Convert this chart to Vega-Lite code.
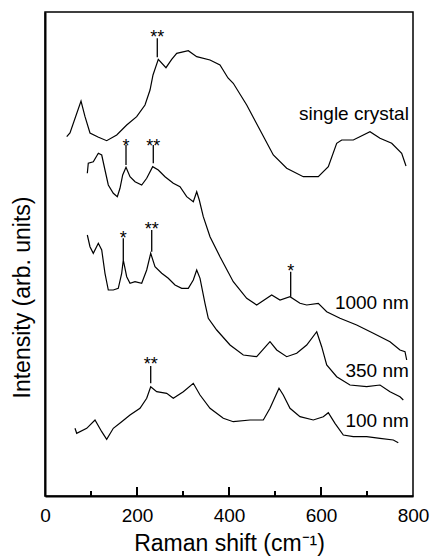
{
  "$schema": "https://vega.github.io/schema/vega-lite/v6.json",
  "width": 368,
  "height": 484,
  "autosize": {"type": "none"},
  "padding": {"left": 45, "top": 12, "right": 19, "bottom": 62},
  "background": "white",
  "config": {
    "font": "Liberation Sans",
    "view": {"stroke": "black", "strokeWidth": 1.5},
    "axis": {"grid": false, "domainColor": "black", "tickColor": "black", "labelColor": "black", "titleColor": "black", "titleFontWeight": "normal"}
  },
  "datasets": {
    "spectra": [
      {"sample": "single crystal", "shift": 47.2, "intensity": 359.3},
      {"sample": "single crystal", "shift": 54.3, "intensity": 363},
      {"sample": "single crystal", "shift": 78.3, "intensity": 395},
      {"sample": "single crystal", "shift": 87.0, "intensity": 379.3},
      {"sample": "single crystal", "shift": 97.8, "intensity": 363},
      {"sample": "single crystal", "shift": 115.2, "intensity": 359},
      {"sample": "single crystal", "shift": 134.1, "intensity": 355.3},
      {"sample": "single crystal", "shift": 155.9, "intensity": 361},
      {"sample": "single crystal", "shift": 177.6, "intensity": 371},
      {"sample": "single crystal", "shift": 199.3, "intensity": 379.3},
      {"sample": "single crystal", "shift": 217.4, "intensity": 391},
      {"sample": "single crystal", "shift": 228.3, "intensity": 406},
      {"sample": "single crystal", "shift": 234.8, "intensity": 421},
      {"sample": "single crystal", "shift": 246.3, "intensity": 436.7},
      {"sample": "single crystal", "shift": 263.0, "intensity": 428.3},
      {"sample": "single crystal", "shift": 275.4, "intensity": 436.7},
      {"sample": "single crystal", "shift": 286.3, "intensity": 442.7},
      {"sample": "single crystal", "shift": 311.5, "intensity": 445.3},
      {"sample": "single crystal", "shift": 329.8, "intensity": 439.3},
      {"sample": "single crystal", "shift": 358.7, "intensity": 436},
      {"sample": "single crystal", "shift": 380.4, "intensity": 431},
      {"sample": "single crystal", "shift": 397.8, "intensity": 418},
      {"sample": "single crystal", "shift": 409.3, "intensity": 412.7},
      {"sample": "single crystal", "shift": 438.5, "intensity": 391},
      {"sample": "single crystal", "shift": 467.4, "intensity": 366},
      {"sample": "single crystal", "shift": 496.3, "intensity": 341},
      {"sample": "single crystal", "shift": 525.4, "intensity": 327.7},
      {"sample": "single crystal", "shift": 561.5, "intensity": 319.3},
      {"sample": "single crystal", "shift": 594.1, "intensity": 319.3},
      {"sample": "single crystal", "shift": 615.9, "intensity": 329.3},
      {"sample": "single crystal", "shift": 634.1, "intensity": 352.7},
      {"sample": "single crystal", "shift": 645.0, "intensity": 356},
      {"sample": "single crystal", "shift": 670.2, "intensity": 356},
      {"sample": "single crystal", "shift": 706.5, "intensity": 364.3},
      {"sample": "single crystal", "shift": 728.3, "intensity": 357.7},
      {"sample": "single crystal", "shift": 753.7, "intensity": 352.7},
      {"sample": "single crystal", "shift": 775.4, "intensity": 342.7},
      {"sample": "single crystal", "shift": 784.8, "intensity": 330},

      {"sample": "1000 nm", "shift": 92.0, "intensity": 322.7},
      {"sample": "1000 nm", "shift": 94.1, "intensity": 332.7},
      {"sample": "1000 nm", "shift": 105.0, "intensity": 334.3},
      {"sample": "1000 nm", "shift": 115.9, "intensity": 342.7},
      {"sample": "1000 nm", "shift": 123.3, "intensity": 341},
      {"sample": "1000 nm", "shift": 130.4, "intensity": 326},
      {"sample": "1000 nm", "shift": 137.6, "intensity": 311},
      {"sample": "1000 nm", "shift": 148.5, "intensity": 302.7},
      {"sample": "1000 nm", "shift": 157.2, "intensity": 299.3},
      {"sample": "1000 nm", "shift": 163.0, "intensity": 307.7},
      {"sample": "1000 nm", "shift": 168.9, "intensity": 321},
      {"sample": "1000 nm", "shift": 176.1, "intensity": 328.7},
      {"sample": "1000 nm", "shift": 184.8, "intensity": 319.3},
      {"sample": "1000 nm", "shift": 195.7, "intensity": 314.3},
      {"sample": "1000 nm", "shift": 210.2, "intensity": 311},
      {"sample": "1000 nm", "shift": 221.1, "intensity": 317.7},
      {"sample": "1000 nm", "shift": 234.1, "intensity": 329.3},
      {"sample": "1000 nm", "shift": 246.3, "intensity": 326},
      {"sample": "1000 nm", "shift": 260.9, "intensity": 319.3},
      {"sample": "1000 nm", "shift": 278.9, "intensity": 312.7},
      {"sample": "1000 nm", "shift": 293.5, "intensity": 309.3},
      {"sample": "1000 nm", "shift": 308.0, "intensity": 299.3},
      {"sample": "1000 nm", "shift": 322.4, "intensity": 294.3},
      {"sample": "1000 nm", "shift": 329.8, "intensity": 304.3},
      {"sample": "1000 nm", "shift": 335.4, "intensity": 296},
      {"sample": "1000 nm", "shift": 344.1, "intensity": 279.3},
      {"sample": "1000 nm", "shift": 358.7, "intensity": 259.3},
      {"sample": "1000 nm", "shift": 380.4, "intensity": 239.3},
      {"sample": "1000 nm", "shift": 409.3, "intensity": 214.3},
      {"sample": "1000 nm", "shift": 438.5, "intensity": 197.7},
      {"sample": "1000 nm", "shift": 460.2, "intensity": 191},
      {"sample": "1000 nm", "shift": 492.8, "intensity": 201},
      {"sample": "1000 nm", "shift": 510.9, "intensity": 196},
      {"sample": "1000 nm", "shift": 532.6, "intensity": 199.3},
      {"sample": "1000 nm", "shift": 554.3, "intensity": 192.7},
      {"sample": "1000 nm", "shift": 568.9, "intensity": 191},
      {"sample": "1000 nm", "shift": 594.1, "intensity": 192.7},
      {"sample": "1000 nm", "shift": 612.4, "intensity": 184.3},
      {"sample": "1000 nm", "shift": 641.3, "intensity": 177.7},
      {"sample": "1000 nm", "shift": 677.6, "intensity": 171},
      {"sample": "1000 nm", "shift": 713.7, "intensity": 162.7},
      {"sample": "1000 nm", "shift": 750.0, "intensity": 154.3},
      {"sample": "1000 nm", "shift": 771.7, "intensity": 146},
      {"sample": "1000 nm", "shift": 782.6, "intensity": 144.3},
      {"sample": "1000 nm", "shift": 786.3, "intensity": 136},

      {"sample": "350 nm", "shift": 92.0, "intensity": 261},
      {"sample": "350 nm", "shift": 97.8, "intensity": 249.3},
      {"sample": "350 nm", "shift": 105.0, "intensity": 242.7},
      {"sample": "350 nm", "shift": 115.9, "intensity": 252.7},
      {"sample": "350 nm", "shift": 123.3, "intensity": 246},
      {"sample": "350 nm", "shift": 130.4, "intensity": 222.7},
      {"sample": "350 nm", "shift": 137.6, "intensity": 206},
      {"sample": "350 nm", "shift": 148.5, "intensity": 206},
      {"sample": "350 nm", "shift": 159.3, "intensity": 207.7},
      {"sample": "350 nm", "shift": 166.7, "intensity": 222.7},
      {"sample": "350 nm", "shift": 170.2, "intensity": 236},
      {"sample": "350 nm", "shift": 177.6, "intensity": 219.3},
      {"sample": "350 nm", "shift": 184.8, "intensity": 212.7},
      {"sample": "350 nm", "shift": 195.7, "intensity": 214.3},
      {"sample": "350 nm", "shift": 210.2, "intensity": 212.7},
      {"sample": "350 nm", "shift": 221.1, "intensity": 226},
      {"sample": "350 nm", "shift": 229.8, "intensity": 242.7},
      {"sample": "350 nm", "shift": 239.1, "intensity": 229.3},
      {"sample": "350 nm", "shift": 253.7, "intensity": 222.7},
      {"sample": "350 nm", "shift": 268.0, "intensity": 217.7},
      {"sample": "350 nm", "shift": 282.6, "intensity": 211},
      {"sample": "350 nm", "shift": 297.2, "intensity": 207.7},
      {"sample": "350 nm", "shift": 311.5, "intensity": 207.7},
      {"sample": "350 nm", "shift": 322.4, "intensity": 216},
      {"sample": "350 nm", "shift": 329.8, "intensity": 226},
      {"sample": "350 nm", "shift": 337.0, "intensity": 217.7},
      {"sample": "350 nm", "shift": 347.8, "intensity": 192.7},
      {"sample": "350 nm", "shift": 355.0, "intensity": 177.7},
      {"sample": "350 nm", "shift": 373.3, "intensity": 166},
      {"sample": "350 nm", "shift": 402.2, "intensity": 151},
      {"sample": "350 nm", "shift": 431.1, "intensity": 141},
      {"sample": "350 nm", "shift": 460.2, "intensity": 139.3},
      {"sample": "350 nm", "shift": 489.1, "intensity": 154.3},
      {"sample": "350 nm", "shift": 503.7, "intensity": 146},
      {"sample": "350 nm", "shift": 525.4, "intensity": 139.3},
      {"sample": "350 nm", "shift": 547.2, "intensity": 142.7},
      {"sample": "350 nm", "shift": 568.9, "intensity": 151},
      {"sample": "350 nm", "shift": 590.7, "intensity": 164.3},
      {"sample": "350 nm", "shift": 601.5, "intensity": 149.3},
      {"sample": "350 nm", "shift": 612.4, "intensity": 131},
      {"sample": "350 nm", "shift": 634.1, "intensity": 119.3},
      {"sample": "350 nm", "shift": 663.0, "intensity": 111},
      {"sample": "350 nm", "shift": 699.3, "intensity": 109.3},
      {"sample": "350 nm", "shift": 728.3, "intensity": 111},
      {"sample": "350 nm", "shift": 750.0, "intensity": 104.3},
      {"sample": "350 nm", "shift": 771.7, "intensity": 99.3},
      {"sample": "350 nm", "shift": 778.9, "intensity": 96},

      {"sample": "100 nm", "shift": 65.2, "intensity": 67.7},
      {"sample": "100 nm", "shift": 68.9, "intensity": 62.7},
      {"sample": "100 nm", "shift": 90.7, "intensity": 67.7},
      {"sample": "100 nm", "shift": 108.7, "intensity": 76},
      {"sample": "100 nm", "shift": 123.3, "intensity": 64.3},
      {"sample": "100 nm", "shift": 134.1, "intensity": 56.7},
      {"sample": "100 nm", "shift": 148.5, "intensity": 67.7},
      {"sample": "100 nm", "shift": 166.7, "intensity": 74.3},
      {"sample": "100 nm", "shift": 184.8, "intensity": 81},
      {"sample": "100 nm", "shift": 206.5, "intensity": 87.7},
      {"sample": "100 nm", "shift": 221.1, "intensity": 97.7},
      {"sample": "100 nm", "shift": 229.8, "intensity": 109.3},
      {"sample": "100 nm", "shift": 242.8, "intensity": 104.3},
      {"sample": "100 nm", "shift": 264.6, "intensity": 102.7},
      {"sample": "100 nm", "shift": 278.9, "intensity": 97.7},
      {"sample": "100 nm", "shift": 300.7, "intensity": 104.3},
      {"sample": "100 nm", "shift": 322.4, "intensity": 112.7},
      {"sample": "100 nm", "shift": 337.0, "intensity": 101},
      {"sample": "100 nm", "shift": 358.7, "intensity": 87.7},
      {"sample": "100 nm", "shift": 387.6, "intensity": 77.7},
      {"sample": "100 nm", "shift": 409.3, "intensity": 74.3},
      {"sample": "100 nm", "shift": 445.7, "intensity": 76},
      {"sample": "100 nm", "shift": 474.6, "intensity": 76},
      {"sample": "100 nm", "shift": 489.1, "intensity": 87.7},
      {"sample": "100 nm", "shift": 508.7, "intensity": 107.7},
      {"sample": "100 nm", "shift": 518.0, "intensity": 101},
      {"sample": "100 nm", "shift": 532.6, "intensity": 87.7},
      {"sample": "100 nm", "shift": 554.3, "intensity": 79.3},
      {"sample": "100 nm", "shift": 583.3, "intensity": 76},
      {"sample": "100 nm", "shift": 605.0, "intensity": 79.3},
      {"sample": "100 nm", "shift": 615.9, "intensity": 83.3},
      {"sample": "100 nm", "shift": 630.4, "intensity": 72.7},
      {"sample": "100 nm", "shift": 648.5, "intensity": 61},
      {"sample": "100 nm", "shift": 670.2, "intensity": 59.3},
      {"sample": "100 nm", "shift": 699.3, "intensity": 59.3},
      {"sample": "100 nm", "shift": 728.3, "intensity": 57.7},
      {"sample": "100 nm", "shift": 757.2, "intensity": 56},
      {"sample": "100 nm", "shift": 768.0, "intensity": 53.3}
    ],
    "marks": [
      {"label": "**", "shift": 244.1, "top": 457.7, "bottom": 438.7, "textY": 452.8},
      {"label": "*", "shift": 176.1, "top": 351, "bottom": 331, "textY": 343.8},
      {"label": "**", "shift": 235.4, "top": 351, "bottom": 332.7, "textY": 343.8},
      {"label": "*", "shift": 534.1, "top": 224.3, "bottom": 199.3, "textY": 218.8},
      {"label": "*", "shift": 170.2, "top": 257.7, "bottom": 236, "textY": 252.3},
      {"label": "**", "shift": 232, "top": 266, "bottom": 244.3, "textY": 260.8},
      {"label": "**", "shift": 229.8, "top": 130, "bottom": 112.7, "textY": 126.3}
    ],
    "labels": [
      {"label": "single crystal", "shift": 791, "intensity": 376},
      {"label": "1000 nm", "shift": 791, "intensity": 187},
      {"label": "350 nm", "shift": 791, "intensity": 119.5},
      {"label": "100 nm", "shift": 791, "intensity": 68.7}
    ],
    "xticks": [
      {"shift": 100, "base": 0, "tip": 5},
      {"shift": 200, "base": 0, "tip": 9},
      {"shift": 300, "base": 0, "tip": 5},
      {"shift": 400, "base": 0, "tip": 9},
      {"shift": 500, "base": 0, "tip": 5},
      {"shift": 600, "base": 0, "tip": 9},
      {"shift": 700, "base": 0, "tip": 5}
    ]
  },
  "layer": [
    {
      "data": {"name": "spectra"},
      "mark": {"type": "line", "color": "black", "strokeWidth": 1.2},
      "encoding": {
        "x": {
          "field": "shift", "type": "quantitative",
          "scale": {"domain": [0, 800], "nice": false},
          "axis": {
            "values": [0, 200, 400, 600, 800],
            "ticks": false,
            "domainWidth": 2,
            "labelFontSize": 19,
            "labelPadding": 10,
            "labelFlush": false,
            "title": "Raman shift (cm⁻¹)",
            "titleFontSize": 23,
            "titlePadding": 7
          }
        },
        "y": {
          "field": "intensity", "type": "quantitative",
          "scale": {"domain": [0, 484], "nice": false},
          "axis": {
            "labels": false,
            "ticks": false,
            "domainWidth": 2,
            "title": "Intensity (arb. units)",
            "titleFontSize": 23,
            "titleX": -23,
            "titleY": 285,
            "titleAngle": -90,
            "titleAlign": "center",
            "titleBaseline": "middle"
          }
        },
        "detail": {"field": "sample"},
        "order": {"field": "shift"}
      }
    },
    {
      "data": {"name": "xticks"},
      "mark": {"type": "rule", "color": "black", "strokeWidth": 2},
      "encoding": {
        "x": {"field": "shift", "type": "quantitative"},
        "y": {"field": "base", "type": "quantitative"},
        "y2": {"field": "tip"}
      }
    },
    {
      "data": {"name": "marks"},
      "mark": {"type": "rule", "color": "black", "strokeWidth": 1.3},
      "encoding": {
        "x": {"field": "shift", "type": "quantitative"},
        "y": {"field": "top", "type": "quantitative"},
        "y2": {"field": "bottom"}
      }
    },
    {
      "data": {"name": "marks"},
      "mark": {"type": "text", "fontSize": 18, "baseline": "alphabetic", "align": "center", "color": "black"},
      "encoding": {
        "x": {"field": "shift", "type": "quantitative"},
        "y": {"field": "textY", "type": "quantitative"},
        "text": {"field": "label"}
      }
    },
    {
      "data": {"name": "labels"},
      "mark": {"type": "text", "fontSize": 19, "baseline": "alphabetic", "align": "right", "color": "black"},
      "encoding": {
        "x": {"field": "shift", "type": "quantitative"},
        "y": {"field": "intensity", "type": "quantitative"},
        "text": {"field": "label"}
      }
    }
  ]
}
